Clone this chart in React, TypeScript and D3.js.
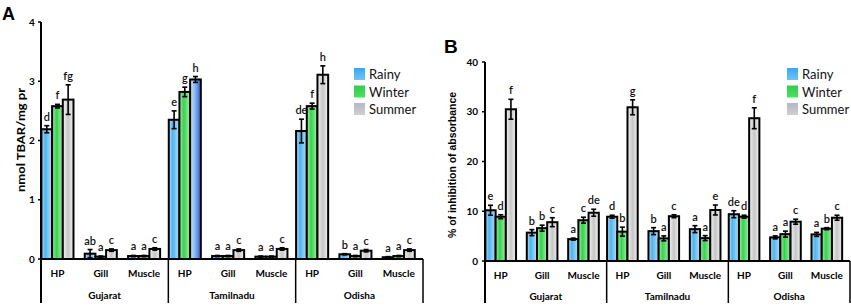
import React from "react";
import * as d3 from "d3";

const groups = ["Gujarat", "Tamilnadu", "Odisha"];
const tissues = ["HP", "Gill", "Muscle"];
const seasons = ["Rainy", "Winter", "Summer"];

// Panel A: nmol TBAR/mg pr (order: group x tissue)
const tbarRainy = [2.19, 0.09, 0.05, 2.35, 0.05, 0.04, 2.16, 0.08, 0.03];
const tbarWinter = [2.58, 0.04, 0.05, 2.82, 0.05, 0.04, 2.58, 0.05, 0.05];
const tbarSummer = [2.69, 0.15, 0.17, 3.03, 0.15, 0.17, 3.11, 0.14, 0.15];
const tbarRainyErr = [0.06, 0.07, 0.01, 0.15, 0.01, 0.01, 0.2, 0.01, 0.01];
const tbarWinterErr = [0.03, 0.01, 0.01, 0.08, 0.01, 0.01, 0.05, 0.01, 0.01];
const tbarSummerErr = [0.25, 0.02, 0.02, 0.05, 0.02, 0.02, 0.15, 0.02, 0.02];
const tbarRainyLetters = ["d", "ab", "a", "e", "a", "a", "de", "b", "a"];
const tbarWinterLetters = ["f", "a", "a", "g", "a", "a", "f", "a", "a"];
const tbarSummerLetters = ["fg", "c", "c", "h", "c", "c", "h", "c", "c"];
const tbarTicks = [0, 1, 2, 3, 4];

// Panel B: % of inhibition of absorbance
const inhRainy = [10.2, 5.7, 4.4, 8.9, 6.0, 6.4, 9.4, 4.75, 5.35];
const inhWinter = [8.9, 6.6, 8.2, 5.9, 4.55, 4.6, 8.9, 5.4, 6.5];
const inhSummer = [30.5, 7.8, 9.7, 30.9, 9.0, 10.25, 28.7, 7.9, 8.7];
const inhRainyErr = [1.0, 0.6, 0.2, 0.3, 0.7, 0.7, 0.7, 0.3, 0.4];
const inhWinterErr = [0.4, 0.6, 0.6, 0.9, 0.5, 0.5, 0.3, 0.6, 0.2];
const inhSummerErr = [2.0, 0.9, 0.7, 1.5, 0.3, 1.0, 2.1, 0.5, 0.5];
const inhRainyLetters = ["e", "b", "a", "d", "b", "a", "de", "a", "a"];
const inhWinterLetters = ["d", "b", "c", "b", "a", "a", "d", "a", "b"];
const inhSummerLetters = ["f", "c", "de", "g", "c", "e", "f", "c", "c"];
const inhTicks = [0, 10, 20, 30, 40];

const gradIds = ["gRainy", "gWinter", "gSummer"];

type PanelProps = {
  id: string;
  letter: string;
  letterX: number;
  letterY: number;
  letterSize: number;
  left: number;
  right: number;
  y0: number;
  yTop: number;
  yMax: number;
  ticks: number[];
  values: number[][];
  errs: number[][];
  letters: string[][];
  yLabel: string;
  yLabelX: number;
  yLabelY: number;
  yLabelLen: number;
  yLabelFont: string;
  tickX: number;
  tickAnchor: string;
  legendX: number;
  catY: number;
  groupY: number;
  special?: (gi: number, ti: number, si: number) => string | null;
};

function Panel(p: PanelProps) {
  const y = d3.scaleLinear().domain([0, p.yMax]).range([p.y0, p.yTop]);
  const gx = d3.scaleBand<string>().domain(groups).range([p.left, p.right]).paddingInner(0).paddingOuter(0);
  const gw = gx.bandwidth();
  const tx = d3
    .scaleBand<string>()
    .domain(tissues)
    .range([0, gw])
    .paddingInner(0.26)
    .paddingOuter(0.1)
    .align(0.05);
  const sx = d3.scaleBand<string>().domain(seasons).range([0, tx.bandwidth()]).padding(0);
  const bottom = 303;
  const font = "Lato, 'Open Sans', sans-serif";

  const bars: React.ReactNode[] = [];
  const errsEl: React.ReactNode[] = [];
  const lets: React.ReactNode[] = [];
  groups.forEach((g, gi) => {
    tissues.forEach((t, ti) => {
      seasons.forEach((s, si) => {
        const idx = gi * 3 + ti;
        const v = p.values[si][idx];
        const e = p.errs[si][idx];
        const x0 = (gx(g) as number) + (tx(t) as number) + (sx(s) as number);
        const w = sx.bandwidth();
        const cx = x0 + w / 2;
        const fillId = (p.special && p.special(gi, ti, si)) || gradIds[si];
        bars.push(
          <rect
            key={`b${gi}${ti}${si}`}
            x={x0}
            y={y(v)}
            width={w}
            height={p.y0 - y(v)}
            fill={`url(#${fillId})`}
            stroke="#000"
            strokeWidth={2}
          />
        );
        const yt = y(v + e);
        const yb = y(Math.max(0, v - e));
        errsEl.push(
          <g key={`e${gi}${ti}${si}`} stroke="#000" strokeWidth={1.6}>
            <line x1={cx} x2={cx} y1={yt} y2={yb} />
            <line x1={cx - 2.5} x2={cx + 2.5} y1={yt} y2={yt} />
            <line x1={cx - 2.5} x2={cx + 2.5} y1={yb} y2={yb} />
          </g>
        );
        lets.push(
          <text
            key={`l${gi}${ti}${si}`}
            x={cx}
            y={yt - 5}
            textAnchor="middle"
            fontSize={11}
            fontWeight={600}
            fontFamily={font}
            fill="#111"
          >
            {p.letters[si][idx]}
          </text>
        );
      });
    });
  });

  return (
    <g>
      <text x={p.letterX} y={p.letterY} fontSize={p.letterSize} fontWeight="bold" fontFamily="'Liberation Sans', Arial, sans-serif">
        {p.letter}
      </text>
      {/* y axis */}
      <line x1={p.left} x2={p.left} y1={p.yTop} y2={bottom} stroke="#000" strokeWidth={2} />
      {p.ticks.map((t) => (
        <g key={`t${t}`}>
          <line x1={p.left - 3} x2={p.left} y1={y(t)} y2={y(t)} stroke="#000" strokeWidth={1.5} />
          <text
            x={p.tickX}
            y={y(t) + 3.5}
            textAnchor={p.tickAnchor as any}
            fontSize={10}
            fontWeight="bold"
            fontFamily={font}
          >
            {t}
          </text>
        </g>
      ))}
      <text
        transform={`translate(${p.yLabelX},${p.yLabelY}) rotate(-90)`}
        textAnchor="middle"
        fontSize={11.5}
        fontWeight="bold"
        fontFamily={p.yLabelFont}
        textLength={p.yLabelLen}
        lengthAdjust="spacingAndGlyphs"
      >
        {p.yLabel}
      </text>
      {bars}
      {errsEl}
      {lets}
      {/* x axis */}
      <line x1={p.left} x2={p.right} y1={p.y0} y2={p.y0} stroke="#000" strokeWidth={2} />
      {groups.map((g) => (
        <line
          key={`d${g}`}
          x1={(gx(g) as number) + gw}
          x2={(gx(g) as number) + gw}
          y1={p.y0}
          y2={bottom}
          stroke="#000"
          strokeWidth={1.5}
        />
      ))}
      {groups.map((g) =>
        tissues.map((t) => (
          <text
            key={`c${g}${t}`}
            x={(gx(g) as number) + (tx(t) as number) + tx.bandwidth() / 2}
            y={p.catY}
            textAnchor="middle"
            fontSize={10}
            fontWeight="bold"
            fontFamily={font}
          >
            {t}
          </text>
        ))
      )}
      {groups.map((g) => (
        <text
          key={`g${g}`}
          x={(gx(g) as number) + gw / 2}
          y={p.groupY}
          textAnchor="middle"
          fontSize={10}
          fontWeight="bold"
          fontFamily={font}
        >
          {g}
        </text>
      ))}
      {/* legend */}
      {seasons.map((s, si) => (
        <g key={`lg${s}`}>
          <rect x={p.legendX} y={68 + si * 17.5} width={11} height={12} fill={`url(#${gradIds[si]}L)`} />
          <text x={p.legendX + 15} y={79 + si * 17.5} fontSize={13} fontFamily={font} fill="#111">
            {s}
          </text>
        </g>
      ))}
    </g>
  );
}

function Grad({ id, stops, dir }: { id: string; stops: [string, string][]; dir?: string }) {
  const vertical = dir === "v";
  return (
    <linearGradient id={id} x1="0" y1="0" x2={vertical ? "0" : "1"} y2={vertical ? "1" : "0"}>
      {stops.map(([o, c]) => (
        <stop key={o} offset={o} stopColor={c} />
      ))}
    </linearGradient>
  );
}

export default function App() {
  return (
    <svg width={851} height={306} style={{ position: "absolute", left: 0, top: 0, background: "#fff" }}>
      <defs>
        <Grad id="gRainy" stops={[["0%", "#b8e3fa"], ["35%", "#4fb4ee"], ["100%", "#b4e0f8"]]} />
        <Grad id="gWinter" stops={[["0%", "#a6efae"], ["40%", "#36d34c"], ["100%", "#a4eeac"]]} />
        <Grad id="gSummer" stops={[["0%", "#f4f4f4"], ["50%", "#c6c6c6"], ["100%", "#f2f2f2"]]} />
        <Grad id="gSummerBlue" stops={[["0%", "#d6e9fb"], ["50%", "#7fb0ee"], ["100%", "#2f5fcf"]]} />
        <Grad id="gRainyL" dir="v" stops={[["0%", "#3aa6ee"], ["100%", "#6ec4f4"]]} />
        <Grad id="gWinterL" dir="v" stops={[["0%", "#2fd048"], ["100%", "#4fdd63"]]} />
        <Grad id="gSummerL" dir="v" stops={[["0%", "#b9b4c8"], ["100%", "#cfcfcf"]]} />
      </defs>
      <Panel
        id="A"
        letter="A"
        letterX={2}
        letterY={20}
        letterSize={18}
        left={41}
        right={423}
        y0={259}
        yTop={22}
        yMax={4}
        ticks={tbarTicks}
        values={[tbarRainy, tbarWinter, tbarSummer]}
        errs={[tbarRainyErr, tbarWinterErr, tbarSummerErr]}
        letters={[tbarRainyLetters, tbarWinterLetters, tbarSummerLetters]}
        yLabel="nmol TBAR/mg pr"
        yLabelX={25}
        yLabelY={140}
        yLabelLen={104}
        yLabelFont="Lato, 'Open Sans', sans-serif"
        tickX={32}
        tickAnchor="middle"
        legendX={354}
        catY={277}
        groupY={299}
        special={(gi, ti, si) => (gi === 1 && ti === 0 && si === 2 ? "gSummerBlue" : null)}
      />
      <Panel
        id="B"
        letter="B"
        letterX={444}
        letterY={53}
        letterSize={19}
        left={485}
        right={850}
        y0={261}
        yTop={62}
        yMax={40}
        ticks={inhTicks}
        values={[inhRainy, inhWinter, inhSummer]}
        errs={[inhRainyErr, inhWinterErr, inhSummerErr]}
        letters={[inhRainyLetters, inhWinterLetters, inhSummerLetters]}
        yLabel="% of inhibition of absorbance"
        yLabelX={456}
        yLabelY={165}
        yLabelLen={146}
        yLabelFont="'Liberation Sans', Arial, sans-serif"
        tickX={478}
        tickAnchor="end"
        legendX={787}
        catY={279}
        groupY={300}
      />
    </svg>
  );
}
